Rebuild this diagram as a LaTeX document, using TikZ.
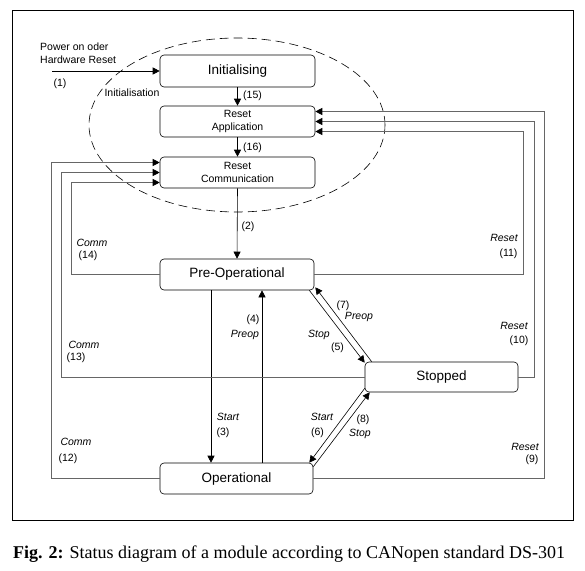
\documentclass[tikz,border=0pt]{standalone}
\usepackage{fontspec}
\setmainfont{Liberation Serif}
\setsansfont{Liberation Sans}
\usetikzlibrary{arrows.meta,calc}
\begin{document}
\begin{tikzpicture}[x=1pt,y=-1pt,
  state/.style={draw,rounded corners=4pt,line width=0.6pt,inner sep=0pt,align=center,font=\sffamily\fontsize{13.5}{16}\selectfont},
  smallstate/.style={state,font=\sffamily\fontsize{10.5}{13}\selectfont},
  lbl/.style={inner sep=0pt,font=\sffamily\fontsize{10.5}{13}\selectfont},
  ilbl/.style={lbl,font=\sffamily\itshape\fontsize{10.5}{13}\selectfont},
  conn/.style={line width=0.6pt,-{Triangle[length=7pt,width=7pt,color=black]}},
  loopline/.style={conn,draw=black!60,line width=0.8pt},
]
\useasboundingbox (0,0) rectangle (585,570);
\draw[line width=0.8pt] (12,10) rectangle (573,520);

% states
\node[state,minimum width=155pt,minimum height=32pt] (init) at (237.5,71) {Initialising};
\node[smallstate,minimum width=155pt,minimum height=31pt] (rapp) at (237.5,121.5) {Reset\\Application};
\node[smallstate,minimum width=155pt,minimum height=31pt] (rcomm) at (237.5,172.5) {Reset\\Communication};
\node[state,minimum width=154pt,minimum height=31pt] (preop) at (237,274.5) {Pre-Operational};
\node[state,minimum width=153pt,minimum height=30pt] (stopped) at (441.5,377) {Stopped};
\node[state,minimum width=153pt,minimum height=31pt] (oper) at (236.5,478.5) {Operational};

% dashed initialisation ellipse
\draw[line width=0.6pt,dash pattern=on 9pt off 5pt] (237,125) ellipse [x radius=148pt, y radius=87pt];
\node[lbl] (tinit) at (132,93) {Initialisation};

% power on
\coordinate (pw) at (52,71);
\draw[conn] (pw) -- (init.west);
\node[lbl,anchor=west,align=left] (tpw) at (40,53.5) {Power on oder\\Hardware Reset};
\node[lbl] (t1) at (60,84) {(1)};

% vertical chain
\draw[conn] (init.south) -- (rapp.north);
\node[lbl,anchor=west] (t15) at (243,96) {(15)};
\draw[conn] (rapp.south) -- (rcomm.north);
\node[lbl,anchor=west] (t16) at (243,148) {(16)};
\draw[conn] (rcomm.south) -- (preop.north);
\node[lbl] (t2) at (248,227) {(2)};

% start / preop
\coordinate (s3) at ($(preop.south)+(-26,0)$);
\draw[conn] (s3) -- (s3 |- oper.north);
\node[ilbl] (t3a) at (228,417) {Start};
\node[lbl] (t3b) at (223,433) {(3)};
\coordinate (s4) at ($(oper.north)+(25.5,0)$);
\draw[conn] (s4) -- (s4 |- preop.south);
\node[lbl] (t4a) at (253,320) {(4)};
\node[ilbl] (t4b) at (245,335) {Preop};

% preop <-> stopped
\draw[conn] ($(preop.south east)+(-5,0)$) -- ($(stopped.north west)+(0,1)$);
\draw[conn] ($(stopped.north west)+(7,0)$) -- ($(preop.south east)+(1,-3)$);
\node[lbl] (t7) at (343,306) {(7)};
\node[ilbl] (t7b) at (359,317) {Preop};
\node[ilbl] (t5a) at (319,335) {Stop};
\node[lbl] (t5b) at (337.5,348) {(5)};

% stopped <-> operational
\draw[conn] ($(stopped.south west)+(0,-4)$) -- ($(oper.north east)+(-4,0)$);
\draw[conn] ($(oper.north east)+(0,4)$) -- ($(stopped.south west)+(5,0)$);
\node[ilbl] (t6a) at (322,417) {Start};
\node[lbl] (t6b) at (317.5,433) {(6)};
\node[lbl] (t8a) at (363,420) {(8)};
\node[ilbl] (t8b) at (360,434) {Stop};

% reset loops (right)
\draw[loopline] (oper.east) -| ([xshift=229pt,yshift=10pt]rapp.east) -- ([yshift=10pt]rapp.east);
\draw[loopline] (stopped.east) -| ([xshift=219pt]rapp.east) -- (rapp.east);
\draw[loopline] (preop.east) -| ([xshift=208pt,yshift=-10pt]rapp.east) -- ([yshift=-10pt]rapp.east);
\node[ilbl] (t11a) at (504,238) {Reset};
\node[lbl] (t11b) at (508.5,254) {(11)};
\node[ilbl] (t10a) at (514,326) {Reset};
\node[lbl] (t10b) at (519,341) {(10)};
\node[ilbl] (t9a) at (525,447) {Reset};
\node[lbl] (t9b) at (532,460) {(9)};

% comm loops (left)
\draw[loopline] (oper.west) -| ([xshift=-108pt,yshift=10pt]rcomm.west) -- ([yshift=10pt]rcomm.west);
\draw[loopline] (stopped.west) -| ([xshift=-98pt]rcomm.west) -- (rcomm.west);
\draw[loopline] (preop.west) -| ([xshift=-88pt,yshift=-10pt]rcomm.west) -- ([yshift=-10pt]rcomm.west);
\node[ilbl] (t14a) at (92,243) {Comm};
\node[lbl] (t14b) at (88,256) {(14)};
\node[ilbl] (t13a) at (84,345) {Comm};
\node[lbl] (t13b) at (76,358) {(13)};
\node[ilbl] (t12a) at (76,442) {Comm};
\node[lbl] (t12b) at (68,459) {(12)};

% caption
\node[inner sep=0pt,anchor=base west,font=\fontsize{18}{20}\selectfont] (cap) at (13,558) {\textbf{Fig. 2:} Status diagram of a module according to CANopen standard DS-301};
\end{tikzpicture}
\end{document}
